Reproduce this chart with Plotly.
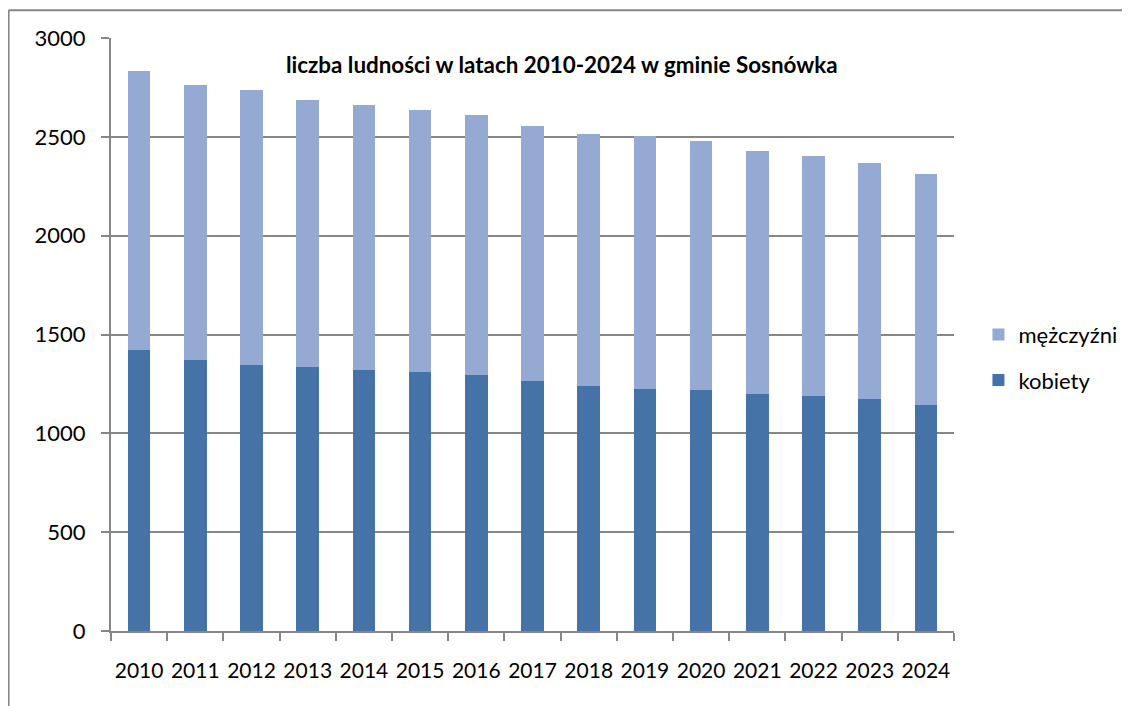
import plotly.graph_objects as go

years = [str(y) for y in range(2010, 2025)]
kobiety = [1420, 1369, 1347, 1334, 1322, 1312, 1293, 1265, 1239, 1226, 1217, 1200, 1190, 1175, 1145]
ogolem = [2834, 2762, 2735, 2686, 2659, 2637, 2611, 2556, 2515, 2502, 2478, 2429, 2405, 2367, 2314]
mezczyzni = [t - k for t, k in zip(ogolem, kobiety)]

title_text = "liczba ludności w latach 2010-2024 w gminie Sosnówka"
FONT = "Lato"
GRAY = "#868686"

fig = go.Figure()
fig.add_trace(go.Bar(x=years, y=kobiety, name="kobiety", marker_color="#4573A7",
                     marker_line_width=0, legendgroup="k", legendrank=2))
fig.add_trace(go.Bar(x=years, y=mezczyzni, name="mężczyźni", marker_color="#95AAD2",
                     marker_line_width=0, legendgroup="m", legendrank=1))

fig.update_layout(
    width=1122, height=698,
    barmode="stack", bargap=0.6,
    plot_bgcolor="white", paper_bgcolor="white",
    margin=dict(l=103, r=176, t=30, b=75, autoexpand=False),
    font=dict(family=FONT, size=22, color="black"),
    showlegend=True,
    legend=dict(traceorder="grouped", x=1.029, y=0.461, xanchor="left", yanchor="middle",
                font=dict(size=22), tracegroupgap=14, itemwidth=30),
    annotations=[dict(text="<b>" + title_text + "</b>", x=0.535, y=0.955, xref="paper", yref="paper",
                      showarrow=False, font=dict(size=22.4, family=FONT), xanchor="center", yanchor="middle")],
    shapes=[
        dict(type="line", xref="paper", yref="paper", x0=-0.1215, x1=1.21, y0=1.047, y1=1.047,
             line=dict(color=GRAY, width=2)),
        dict(type="line", xref="paper", yref="paper", x0=-0.1215, x1=-0.1215, y0=1.047, y1=-0.13,
             line=dict(color=GRAY, width=2)),
    ],
)
fig.update_xaxes(type="category", showline=True, linecolor=GRAY, linewidth=2,
                 ticks="outside", tickson="boundaries", ticklen=8, tickcolor=GRAY, tickwidth=2,
                 showgrid=False, ticklabelstandoff=20, tickangle=0, tickfont=dict(size=21))
fig.update_yaxes(range=[0, 3000], dtick=500, showline=True, linecolor=GRAY, linewidth=2,
                 ticks="outside", ticklen=8, tickcolor=GRAY, tickwidth=2,
                 showgrid=True, gridcolor=GRAY, gridwidth=1.5, zeroline=False,
                 ticklabelstandoff=11)

fig.write_html("out.html")
